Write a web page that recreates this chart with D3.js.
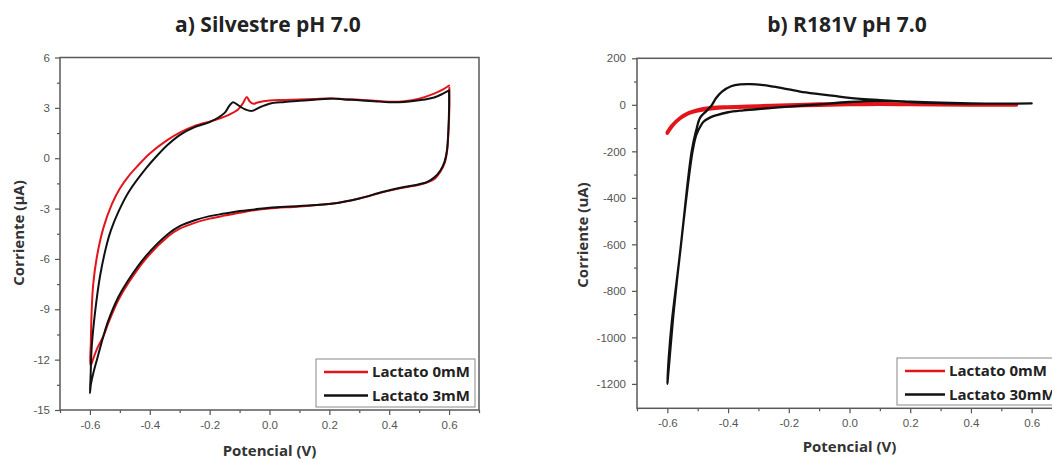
<!DOCTYPE html>
<html>
<head>
<meta charset="utf-8">
<script src="https://d3js.org/d3.v7.min.js"></script>
<style>
  body { margin: 0; background: #fff; }
  svg { display: block; font-family: "Open Sans", sans-serif; }
  .tick text { fill: #555; font-size: 11.5px; }
  .tick line { stroke: #555; stroke-width: 1.2; }
  .domain { display: none; }
</style>
</head>
<body>
<svg id="chart" width="1052" height="460"></svg>
<script>
// ---- a) Silvestre pH 7.0 ----
var silv0Potential = [0.600, 0.580, 0.550, 0.500, 0.450, 0.400, 0.350, 0.300, 0.250, 0.200, 0.150, 0.100, 0.050, 0.000, -0.040, -0.054, -0.066, -0.076, -0.088, -0.105, -0.140, -0.170, -0.200, -0.250, -0.300, -0.343, -0.400, -0.440, -0.470, -0.500, -0.527, -0.555, -0.577, -0.589, -0.594, -0.597, -0.598,
  -0.596, -0.590, -0.575, -0.555, -0.538, -0.505, -0.472, -0.416, -0.338, -0.300, -0.250, -0.200, -0.150, -0.100, -0.050, 0.000, 0.100, 0.213, 0.300, 0.380, 0.450, 0.500, 0.526, 0.550, 0.571, 0.585, 0.593, 0.598, 0.601, 0.601];
var silv0Current = [4.33, 4.10, 3.85, 3.55, 3.40, 3.37, 3.42, 3.48, 3.52, 3.56, 3.53, 3.50, 3.47, 3.44, 3.32, 3.24, 3.38, 3.64, 3.30, 2.90, 2.55, 2.35, 2.18, 1.92, 1.52, 1.06, 0.28, -0.45, -1.05, -1.80, -2.75, -4.15, -5.90, -7.50, -9.00, -11.00, -12.30,
  -12.30, -12.00, -11.30, -10.60, -9.80, -8.45, -7.45, -6.05, -4.65, -4.20, -3.85, -3.60, -3.42, -3.25, -3.10, -3.00, -2.87, -2.70, -2.40, -2.02, -1.75, -1.58, -1.45, -1.25, -0.80, -0.30, 0.40, 1.60, 3.00, 4.20];

var silv3Potential = [0.600, 0.580, 0.550, 0.500, 0.450, 0.400, 0.350, 0.300, 0.250, 0.213, 0.150, 0.100, 0.050, 0.000, -0.030, -0.059, -0.080, -0.100, -0.122, -0.135, -0.150, -0.200, -0.250, -0.300, -0.340, -0.372, -0.410, -0.470, -0.505, -0.530, -0.544, -0.566, -0.583, -0.594, -0.598, -0.600,
  -0.597, -0.589, -0.575, -0.555, -0.538, -0.505, -0.472, -0.416, -0.338, -0.300, -0.250, -0.200, -0.150, -0.100, -0.050, 0.000, 0.100, 0.213, 0.300, 0.380, 0.450, 0.500, 0.526, 0.550, 0.571, 0.585, 0.593, 0.598, 0.600, 0.600];
var silv3Current = [4.04, 3.85, 3.62, 3.45, 3.35, 3.33, 3.40, 3.46, 3.50, 3.55, 3.48, 3.42, 3.35, 3.25, 3.05, 2.82, 2.90, 3.10, 3.34, 3.10, 2.70, 2.15, 1.85, 1.38, 0.80, 0.22, -0.55, -2.00, -3.20, -4.30, -5.15, -7.00, -9.20, -11.25, -13.10, -14.00,
  -13.50, -12.83, -11.90, -10.60, -9.65, -8.27, -7.27, -5.89, -4.50, -4.05, -3.70, -3.45, -3.30, -3.15, -3.05, -2.95, -2.85, -2.70, -2.40, -2.00, -1.72, -1.55, -1.42, -1.15, -0.73, -0.20, 0.46, 1.80, 3.00, 4.04];

var silvYTicks = [6, 3, 0, -3, -6, -9, -12, -15];
var silvYMinor = [4.5, 1.5, -1.5, -4.5, -7.5, -10.5, -13.5];

// ---- b) R181V pH 7.0 ----
var r181v0Potential = [-0.600, -0.580, -0.558, -0.535, -0.514, -0.490, -0.470, -0.440, -0.400, -0.300, -0.200, -0.100, 0.000, 0.100, 0.200, 0.300, 0.400, 0.500, 0.550,
  0.500, 0.400, 0.300, 0.200, 0.100, 0.000, -0.100, -0.200, -0.300, -0.400, -0.450, -0.500, -0.530, -0.560, -0.585, -0.600];
var r181v0Current = [-122, -85, -58, -40, -30, -23, -19, -15, -12, -8, -5, -2, 1, 2, 1, 0, -1, -1, -1,
  0, 0, 1, 3, 5, 6, 3, -1, -5, -9, -12, -22, -35, -58, -90, -118];

var r181v30Potential = [0.600, 0.500, 0.400, 0.300, 0.200, 0.100, 0.000, -0.050, -0.100, -0.163, -0.200, -0.250, -0.290, -0.327, -0.360, -0.390, -0.420, -0.440, -0.453, -0.470, -0.492, -0.505, -0.519, -0.530, -0.541, -0.550, -0.562, -0.575, -0.585, -0.595, -0.600,
  -0.598, -0.590, -0.580, -0.568, -0.555, -0.543, -0.530, -0.517, -0.505, -0.490, -0.481, -0.460, -0.437, -0.400, -0.350, -0.300, -0.200, -0.100, 0.000, 0.100, 0.200, 0.300, 0.400, 0.500, 0.600];
var r181v30Current = [6, 5, 5, 7, 12, 20, 30, 38, 46, 57, 66, 78, 86, 89, 88, 80, 57, 28, 0, -25, -55, -110, -194, -300, -430, -540, -680, -820, -930, -1080, -1200,
  -1170, -1050, -900, -750, -600, -460, -320, -200, -130, -90, -73, -55, -44, -32, -24, -18, -8, 2, 12, 17, 14, 9, 6, 5, 6];

var r181vYTicks = [200, 0, -200, -400, -600, -800, -1000, -1200];
var r181vYMinor = [100, -100, -300, -500, -700, -900, -1100];

var xTicks = [-0.6, -0.4, -0.2, 0.0, 0.2, 0.4, 0.6];
var xMinor = [-0.7, -0.5, -0.3, -0.1, 0.1, 0.3, 0.5, 0.7];

var RED = '#e3151b', BLACK = '#111';

var svg = d3.select('#chart');

function drawPanel(p) {
	var x = d3.scaleLinear().domain([-0.7, 0.7]).range([p.left, p.right]);
	var y = d3.scaleLinear().domain(p.yDomain).range([p.bottom, p.top]);
	var g = svg.append('g');

	// minor ticks first
	g.append('g').attr('transform', 'translate(0,' + p.bottom + ')')
		.call(d3.axisBottom(x).tickValues(xMinor).tickSize(3).tickFormat(''));
	g.append('g').attr('transform', 'translate(' + p.left + ',0)')
		.call(d3.axisLeft(y).tickValues(p.yMinor).tickSize(3).tickFormat(''));

	g.append('g').attr('transform', 'translate(0,' + p.bottom + ')')
		.call(d3.axisBottom(x).tickValues(xTicks).tickSize(5).tickPadding(6)
			.tickFormat(function(d) { return d.toFixed(1); }));
	g.append('g').attr('transform', 'translate(' + p.left + ',0)')
		.call(d3.axisLeft(y).tickValues(p.yTicks).tickSize(5).tickPadding(p.yPad)
			.tickFormat(function(d) { return String(d); }));

	// frame
	g.append('rect')
		.attr('x', p.left).attr('y', p.top)
		.attr('width', p.right - p.left).attr('height', p.bottom - p.top)
		.attr('fill', 'none').attr('stroke', '#5a5a5a').attr('stroke-width', 1.5);

	var line = d3.line()
		.x(function(d) { return x(d[0]); })
		.y(function(d) { return y(d[1]); })
		.curve(d3.curveCatmullRom.alpha(0.5));

	p.series.forEach(function(s) {
		g.append('path')
			.datum(d3.zip(s.xs, s.ys))
			.attr('d', line)
			.attr('fill', 'none')
			.attr('stroke', s.color)
			.attr('stroke-width', s.width)
			.attr('stroke-linejoin', 'round')
			.attr('stroke-linecap', 'round');
	});

	// titles
	g.append('text')
		.attr('x', p.titleX).attr('y', 32)
		.attr('text-anchor', 'middle')
		.style('font-size', '21px').style('font-weight', 'bold').style('fill', '#222')
		.text(p.title);

	g.append('text')
		.attr('x', (p.left + p.xLabelRight) / 2).attr('y', p.xLabelY)
		.attr('text-anchor', 'middle')
		.style('font-size', '15px').style('font-weight', 'bold').style('fill', '#333')
		.text('Potencial (V)');

	g.append('text')
		.attr('transform', 'translate(' + p.yLabelX + ',' + p.yLabelY + ') rotate(-90)')
		.attr('text-anchor', 'middle')
		.style('font-size', '15px').style('font-weight', 'bold').style('fill', '#333')
		.text(p.yLabel);

	// legend
	var lg = g.append('g');
	lg.append('rect')
		.attr('x', p.legend.x).attr('y', p.legend.y)
		.attr('width', p.legend.w).attr('height', p.legend.h)
		.attr('fill', '#fff').attr('stroke', '#888').attr('stroke-width', 1);
	p.series.filter(function(s) { return s.name; }).forEach(function(s, i) {
		var ly = p.legend.y + 13 + i * 23.5;
		lg.append('line')
			.attr('x1', p.legend.x + 8).attr('x2', p.legend.x + p.legend.lineW)
			.attr('y1', ly).attr('y2', ly)
			.attr('stroke', s.color).attr('stroke-width', 2.5);
		lg.append('text')
			.attr('x', p.legend.x + p.legend.lineW + 4).attr('y', ly + 5)
			.style('font-size', '15px').style('font-weight', 'bold').style('fill', '#222')
			.text(s.name);
	});
}

drawPanel({
	left: 60, right: 479, top: 57.5, bottom: 410,
	yDomain: [-15, 6], yTicks: silvYTicks, yMinor: silvYMinor, yPad: 5,
	title: 'a) Silvestre pH 7.0', titleX: 268,
	xLabelRight: 479, xLabelY: 456,
	yLabel: 'Corriente (\u00b5A)', yLabelX: 24, yLabelY: 233,
	legend: { x: 316, y: 359, w: 159, h: 48, lineW: 52 },
	series: [
		{ xs: silv0Potential, ys: silv0Current, color: RED, width: 2, name: 'Lactato 0mM' },
		{ xs: silv3Potential, ys: silv3Current, color: BLACK, width: 2, name: 'Lactato 3mM' }
	]
});

drawPanel({
	left: 637, right: 1062, top: 58.3, bottom: 408.3,
	yDomain: [-1305, 200], yTicks: r181vYTicks, yMinor: r181vYMinor, yPad: 6,
	title: 'b) R181V pH 7.0', titleX: 847,
	xLabelRight: 1062, xLabelY: 452,
	yLabel: 'Corriente (uA)', yLabelX: 588, yLabelY: 235,
	legend: { x: 897, y: 358, w: 170, h: 47, lineW: 48 },
	series: [
		{ xs: r181v0Potential, ys: r181v0Current, color: RED, width: 3.5, name: 'Lactato 0mM' },
		{ xs: r181v30Potential, ys: r181v30Current, color: BLACK, width: 2.3, name: 'Lactato 30mM' }
	]
});
</script>
</body>
</html>
